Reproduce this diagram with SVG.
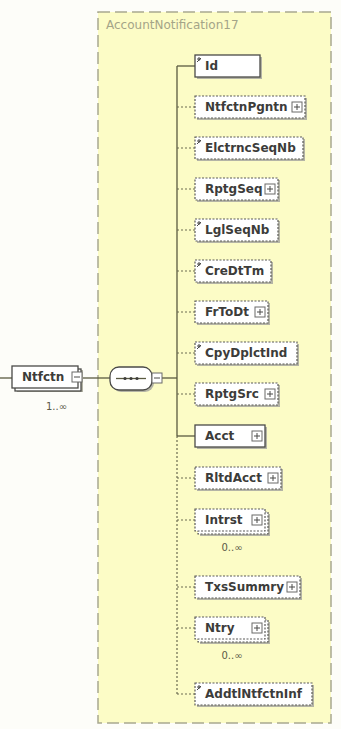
<svg xmlns="http://www.w3.org/2000/svg" width="341" height="729" viewBox="0 0 341 729">
<defs>
<style>
.bg{fill:#fdfdf9}
.area{fill:#fcfcc6;stroke:#a8a890;stroke-width:1.5;stroke-dasharray:12 5}
.title{font-family:"DejaVu Sans",sans-serif;font-size:12px;fill:#a4a488}
.sh{fill:#b4b4a6}
.req{fill:#ffffff;stroke:#4a4a48;stroke-width:1.3}
.opt{fill:#ffffff;stroke:#5a5a58;stroke-width:1.2;stroke-dasharray:2 1.5}
.lbl{font-family:"DejaVu Sans",sans-serif;font-weight:bold;font-size:12px;fill:#3c3c3a}
.occ{font-family:"DejaVu Sans",sans-serif;font-size:10px;fill:#5a5a48}
.ln{stroke:#5a5a40;stroke-width:1.3;fill:none}
.dl{stroke:#6a6a50;stroke-width:1.2;fill:none;stroke-dasharray:2 2}
.ic{fill:#ffffff;stroke:#6a6a68;stroke-width:1}
.icl{stroke:#4a4a48;stroke-width:1}
.st{stroke:#4a4a48;stroke-width:1;fill:none}
</style>
<g id="plus"><rect class="ic" x="0" y="0" width="10" height="10"/><path class="icl" d="M2 5H8M5 2V8"/></g>
<g id="minus"><rect class="ic" x="0" y="0" width="10" height="10"/><path class="icl" d="M2 5H8"/></g>
<g id="simple"><path class="st" d="M0 5L4 1M0 2H4M2 0V4"/></g>
</defs>
<rect class="bg" x="0" y="0" width="341" height="729"/>
<rect class="area" x="98" y="12" width="233" height="711"/>
<text class="title" x="106" y="29">AccountNotification17</text>

<g id="connectors">
<path class="ln" d="M0 378H12"/>
<path class="ln" d="M82 378H110"/>
<path class="ln" d="M162 378H177"/>
<path class="ln" d="M177 66V436"/>
<path class="dl" d="M177 436V694"/>
<path class="ln" d="M177 66H195"/>
<path class="ln" d="M177 436H195"/>
<path class="dl" d="M177 107H195M177 148H195M177 189H195M177 230H195M177 271H195M177 312H195M177 353H195M177 394H195M177 478H195M177 520H195M177 587H195M177 628H195M177 694H195"/>
</g>

<g id="node-Ntfctn">
<rect class="sh" x="17" y="370" width="66" height="22"/>
<rect class="req" x="15" y="369" width="66" height="22"/>
<rect class="req" x="12" y="366" width="66" height="22"/>
<text class="lbl" x="22" y="381">Ntfctn</text>
<use href="#minus" x="72" y="372"/>
<text class="occ" x="46" y="410">1..∞</text>
</g>

<g id="node-sequence">
<rect class="sh" x="112" y="369" width="42" height="23" rx="9"/>
<rect class="req" x="110" y="367" width="42" height="23" rx="9"/>
<path class="ln" d="M116 378.5H146"/>
<circle cx="125" cy="378.5" r="1.6" fill="#3c3c3a"/>
<circle cx="131" cy="378.5" r="1.6" fill="#3c3c3a"/>
<circle cx="137" cy="378.5" r="1.6" fill="#3c3c3a"/>
<use href="#minus" x="152" y="373"/>
</g>

<g id="node-Id">
<rect class="sh" x="197" y="57" width="65" height="22"/>
<rect class="req" x="195" y="55" width="65" height="22"/>
<use href="#simple" x="197" y="57"/>
<text class="lbl" x="205" y="70">Id</text>
</g>

<g id="node-NtfctnPgntn">
<rect class="sh" x="197" y="98" width="110" height="22"/>
<rect class="opt" x="195" y="96" width="110" height="22"/>
<text class="lbl" x="205" y="111">NtfctnPgntn</text>
<use href="#plus" x="292" y="102"/>
</g>

<g id="node-ElctrncSeqNb">
<rect class="sh" x="197" y="139" width="108" height="22"/>
<rect class="opt" x="195" y="137" width="108" height="22"/>
<use href="#simple" x="197" y="139"/>
<text class="lbl" x="205" y="152">ElctrncSeqNb</text>
</g>

<g id="node-RptgSeq">
<rect class="sh" x="197" y="180" width="83" height="22"/>
<rect class="opt" x="195" y="178" width="83" height="22"/>
<text class="lbl" x="205" y="193">RptgSeq</text>
<use href="#plus" x="265" y="184"/>
</g>

<g id="node-LglSeqNb">
<rect class="sh" x="197" y="221" width="83" height="22"/>
<rect class="opt" x="195" y="219" width="83" height="22"/>
<use href="#simple" x="197" y="221"/>
<text class="lbl" x="205" y="234">LglSeqNb</text>
</g>

<g id="node-CreDtTm">
<rect class="sh" x="197" y="262" width="76" height="22"/>
<rect class="opt" x="195" y="260" width="76" height="22"/>
<use href="#simple" x="197" y="262"/>
<text class="lbl" x="205" y="275">CreDtTm</text>
</g>

<g id="node-FrToDt">
<rect class="sh" x="197" y="303" width="73" height="22"/>
<rect class="opt" x="195" y="301" width="73" height="22"/>
<text class="lbl" x="205" y="316">FrToDt</text>
<use href="#plus" x="255" y="307"/>
</g>

<g id="node-CpyDplctInd">
<rect class="sh" x="197" y="344" width="102" height="22"/>
<rect class="opt" x="195" y="342" width="102" height="22"/>
<use href="#simple" x="197" y="344"/>
<text class="lbl" x="205" y="357">CpyDplctInd</text>
</g>

<g id="node-RptgSrc">
<rect class="sh" x="197" y="385" width="83" height="22"/>
<rect class="opt" x="195" y="383" width="83" height="22"/>
<text class="lbl" x="205" y="398">RptgSrc</text>
<use href="#plus" x="265" y="389"/>
</g>

<g id="node-Acct">
<rect class="sh" x="197" y="427" width="70" height="22"/>
<rect class="req" x="195" y="425" width="70" height="22"/>
<text class="lbl" x="205" y="440">Acct</text>
<use href="#plus" x="252" y="431"/>
</g>

<g id="node-RltdAcct">
<rect class="sh" x="197" y="469" width="86" height="22"/>
<rect class="opt" x="195" y="467" width="86" height="22"/>
<text class="lbl" x="205" y="482">RltdAcct</text>
<use href="#plus" x="268" y="473"/>
</g>

<g id="node-Intrst">
<rect class="sh" x="200" y="514" width="70" height="22"/>
<rect class="opt" x="198" y="512" width="70" height="22"/>
<rect class="opt" x="195" y="509" width="70" height="22"/>
<text class="lbl" x="205" y="524">Intrst</text>
<use href="#plus" x="252" y="515"/>
<text class="occ" x="232" y="551" text-anchor="middle">0..∞</text>
</g>

<g id="node-TxsSummry">
<rect class="sh" x="197" y="578" width="105" height="22"/>
<rect class="opt" x="195" y="576" width="105" height="22"/>
<text class="lbl" x="205" y="591">TxsSummry</text>
<use href="#plus" x="287" y="582"/>
</g>

<g id="node-Ntry">
<rect class="sh" x="200" y="622" width="70" height="22"/>
<rect class="opt" x="198" y="620" width="70" height="22"/>
<rect class="opt" x="195" y="617" width="70" height="22"/>
<text class="lbl" x="205" y="632">Ntry</text>
<use href="#plus" x="252" y="623"/>
<text class="occ" x="232" y="659" text-anchor="middle">0..∞</text>
</g>

<g id="node-AddtlNtfctnInf">
<rect class="sh" x="197" y="685" width="117" height="22"/>
<rect class="opt" x="195" y="683" width="117" height="22"/>
<use href="#simple" x="197" y="685"/>
<text class="lbl" x="205" y="698">AddtlNtfctnInf</text>
</g>
</svg>
